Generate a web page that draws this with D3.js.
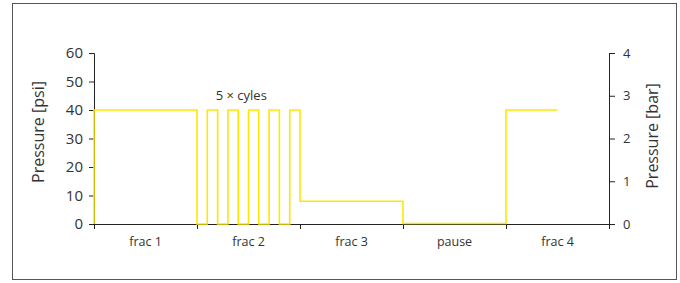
<!DOCTYPE html>
<html>
<head>
<meta charset="utf-8">
<script src="https://cdn.jsdelivr.net/npm/d3@7"></script>
<style>
  body { margin: 0; background: #fff; }
  svg text { font-family: "Open Sans", sans-serif; fill: #333; }
</style>
</head>
<body>
<svg width="680" height="283"></svg>
<script>
// phases along the x axis
var phases = ["frac 1", "frac 2", "frac 3", "pause", "frac 4"];

// step profile: time (in phase units) and pressure in psi
var times = [0, 0, 1, 1.1, 1.2, 1.3, 1.4, 1.5, 1.6, 1.7, 1.8, 1.9, 2, 3, 4, 4.5];
var psi   = [0, 40, 0, 40, 0, 40, 0, 40, 0, 40, 0, 40, 8, 0.15, 40, 40];

var psiTicks = [0, 10, 20, 30, 40, 50, 60];
var barTicks = [0, 1, 2, 3, 4];

var svg = d3.select("svg");

// plot box (note: "top" is taken by window.top)
var plotL = 94, plotR = 609, plotT = 53, plotB = 224;

// frame
svg.append("rect")
    .attr("x", 12.5).attr("y", 3.5)
    .attr("width", 664).attr("height", 276)
    .attr("fill", "none")
    .attr("stroke", "#555");

var x = d3.scaleLinear().domain([0, phases.length]).range([plotL, plotR]);
var band = d3.scaleBand().domain(phases).range([plotL, plotR]);
var y = d3.scaleLinear().domain([0, 60]).range([plotB, plotT]);
var yBar = d3.scaleLinear().domain([0, 4]).range([plotB, plotT]);

// left axis
var gl = svg.append("g")
    .attr("transform", "translate(" + plotL + ",0)")
    .call(d3.axisLeft(y).tickValues(psiTicks).tickSize(5).tickPadding(6));
gl.selectAll("text").style("font-size", "15px");

// right axis
var gr = svg.append("g")
    .attr("transform", "translate(" + plotR + ",0)")
    .call(d3.axisRight(yBar).tickValues(barTicks).tickFormat(d3.format("d"))
      .tickSize(6).tickPadding(8));
gr.selectAll("text").style("font-size", "13px");

// bottom axis: ticks at phase boundaries, labels centred
svg.append("g")
    .attr("transform", "translate(0," + plotB + ")")
    .call(d3.axisBottom(x).ticks(5).tickSize(5).tickFormat(""));

svg.selectAll(".phase")
    .data(phases)
  .enter().append("text")
    .attr("class", "phase")
    .attr("x", function(d) { return band(d) + band.bandwidth() / 2; })
    .attr("y", 246)
    .attr("text-anchor", "middle")
    .style("font-size", "12.5px")
    .text(function(d) { return d; });

svg.selectAll(".domain, .tick line").attr("stroke", "#222");

// axis titles
svg.append("text")
    .attr("transform", "translate(44,132) rotate(-90)")
    .attr("text-anchor", "middle")
    .style("font-size", "16px")
    .text("Pressure [psi]");

svg.append("text")
    .attr("transform", "translate(658,136) rotate(-90)")
    .attr("text-anchor", "middle")
    .style("font-size", "16px")
    .text("Pressure [bar]");

// pressure line
var line = d3.line()
    .x(function(d, i) { return x(times[i]); })
    .y(function(d) { return y(d); })
    .curve(d3.curveStepAfter);

svg.append("path")
    .datum(psi)
    .attr("fill", "none")
    .attr("stroke", "#ffe800")
    .attr("stroke-width", 1.6)
    .attr("d", line);

svg.append("text")
    .attr("x", x(1.43))
    .attr("y", 100)
    .attr("text-anchor", "middle")
    .style("font-size", "13px")
    .text("5 \u00d7 cyles");
</script>
</body>
</html>
